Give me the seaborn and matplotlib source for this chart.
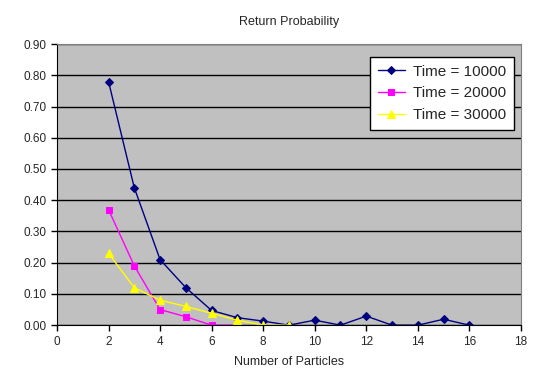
import pandas as pd
import seaborn as sns
import matplotlib.pyplot as plt
from matplotlib.ticker import FormatStrFormatter

x_10000 = [2, 3, 4, 5, 6, 7, 8, 9, 10, 11, 12, 13, 14, 15, 16]
y_10000 = [0.78, 0.44, 0.21, 0.12, 0.047, 0.024, 0.013, 0.0, 0.016, 0.0, 0.029, 0.0, 0.0, 0.019, 0.0]
x_20000 = [2, 3, 4, 5, 6, 7]
y_20000 = [0.37, 0.19, 0.05, 0.027, 0.0, 0.0]
x_30000 = [2, 3, 4, 5, 6, 7, 8, 9]
y_30000 = [0.23, 0.12, 0.08, 0.06, 0.038, 0.016, 0.0, 0.0]

series = [
    ("Time = 10000", x_10000, y_10000, "#000080", "D", 4.5),
    ("Time = 20000", x_20000, y_20000, "#FF00FF", "s", 5),
    ("Time = 30000", x_30000, y_30000, "#FFFF00", "^", 5.5),
]

sns.set_style("white")
plt.rcParams['font.family'] = ['Liberation Sans', 'DejaVu Sans']

fig = plt.figure(figsize=(5.53, 3.83), dpi=100)
ax = fig.add_axes([0.103, 0.151, 0.839, 0.734])
ax.set_facecolor("#C0C0C0")

for name, xs, ys, col, mk, ms in series:
    df = pd.DataFrame({"x": xs, "y": ys})
    sns.lineplot(data=df, x="x", y="y", ax=ax, color=col, marker=mk,
                 markersize=ms, markeredgecolor=col, linewidth=1, label=name)

ax.set_xlim(0, 18)
ax.set_ylim(0, 0.9)
ax.set_xticks(range(0, 19, 2))
ax.set_yticks([i / 10 for i in range(10)])
ax.yaxis.set_major_formatter(FormatStrFormatter('%.2f'))
ax.yaxis.grid(True, color="black", linewidth=1)
ax.set_axisbelow(True)
ax.tick_params(axis="both", direction="out", length=4, width=1, labelsize=8.5,
               left=True, bottom=True, color="black")
for s in ["top", "right"]:
    ax.spines[s].set_color("#808080")
for s in ["left", "bottom"]:
    ax.spines[s].set_color("black")

ax.set_title("Return Probability", fontsize=9, pad=14)
ax.set_xlabel("Number of Particles", fontsize=9, labelpad=6)
ax.set_ylabel("")

leg = ax.legend(loc="upper right", bbox_to_anchor=(0.984, 0.954), fontsize=11,
                frameon=True, fancybox=False, framealpha=1, edgecolor="black",
                handlelength=1.8, handletextpad=0.5, borderpad=0.5,
                labelspacing=0.5, borderaxespad=0)
leg.get_frame().set_linewidth(1)

fig.savefig("out.png", dpi=100)
